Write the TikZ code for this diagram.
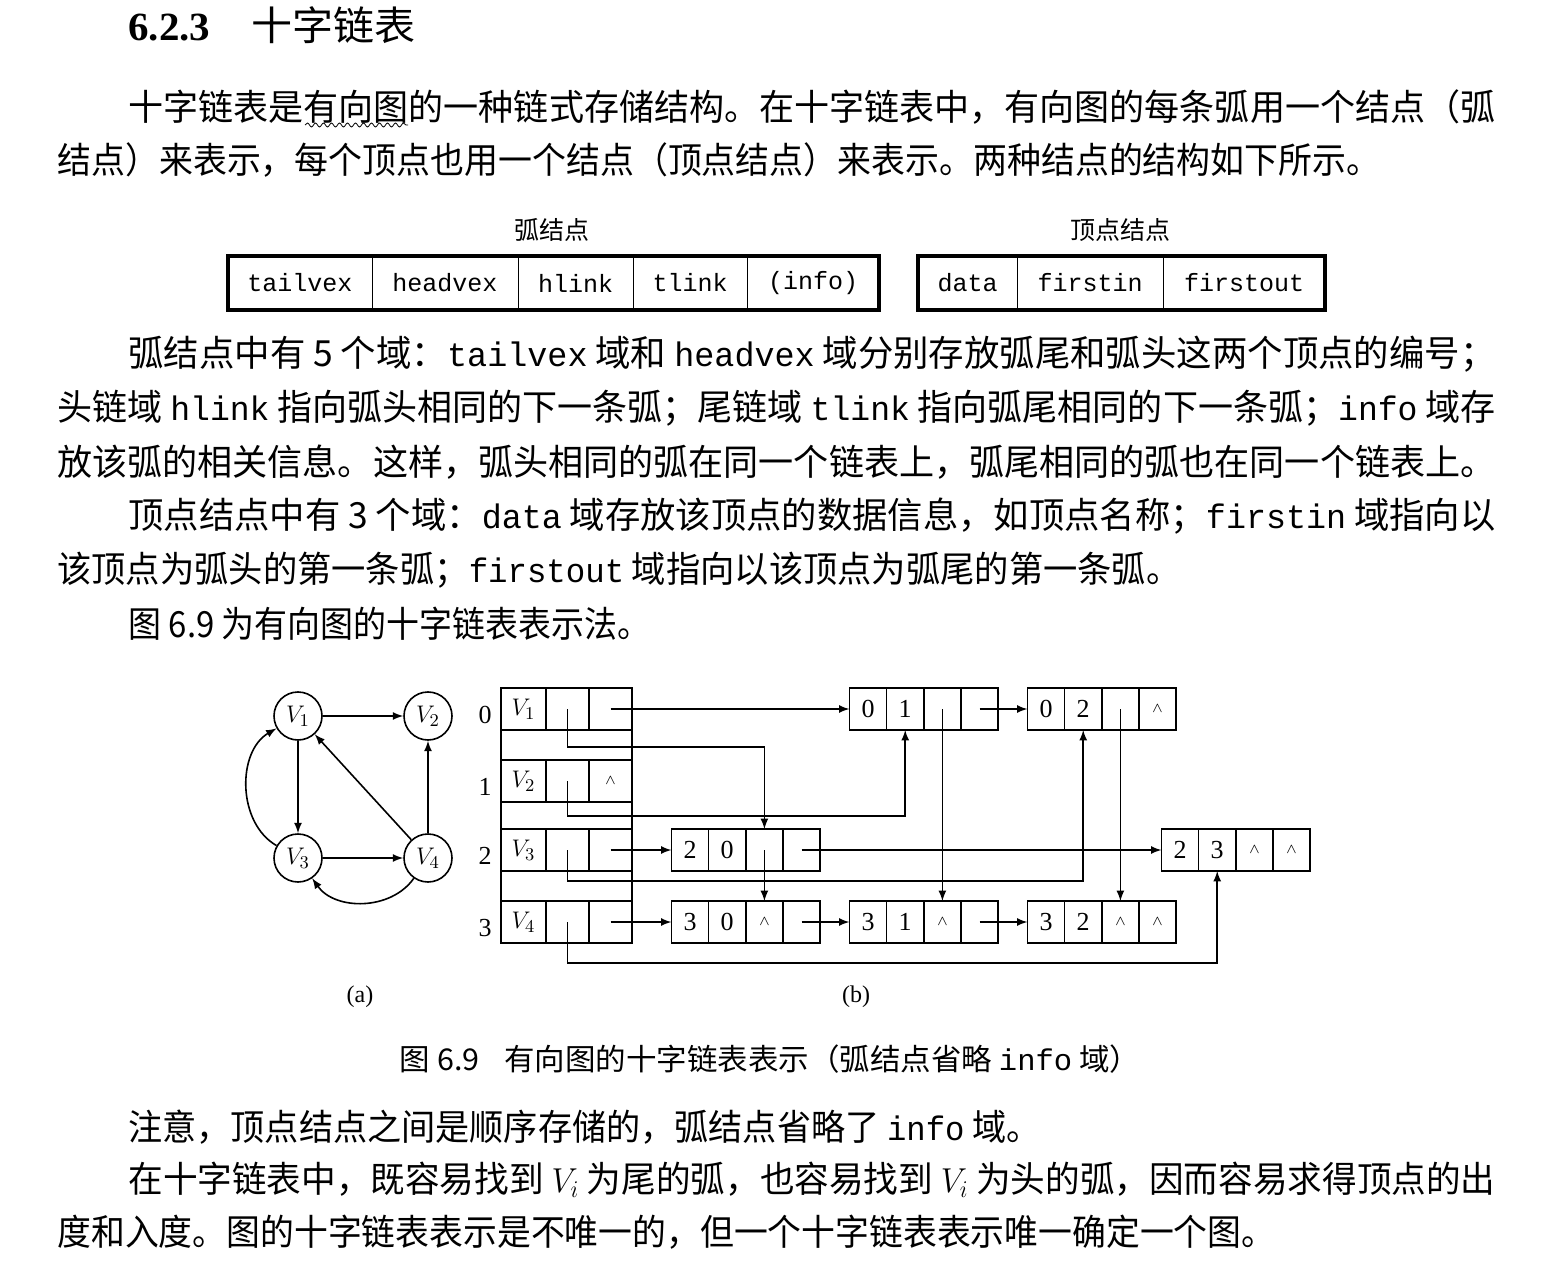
\documentclass[tikz,border=0pt]{standalone}
\usepackage{graphicx}
\usepackage{fontspec}
\setmainfont{Noto Sans CJK SC}
\setmonofont{Liberation Mono}
\newfontfamily\serif{Liberation Serif}
\usetikzlibrary{positioning}
\usetikzlibrary{decorations.pathmorphing}
\newcommand\jline[2]{\resizebox{#1}{\height}{#2}}
\newcommand\nul{\scriptsize$\wedge$}
\newcommand\tts[1]{{\fontsize{17}{17}\ttfamily #1}}
\newcommand\arcbox[7]{%
  \node[cell] (#1-1) at (#2,#3) {#4};
  \node[cell, right=0pt of #1-1] (#1-2) {#5};
  \node[cell, right=0pt of #1-2] (#1-3) {#6};
  \node[cell, right=0pt of #1-3] (#1-4) {#7};}
\tikzset{
  txt/.style={anchor=west, inner sep=0pt, font=\fontsize{18}{18}\selectfont},
  cell/.style={draw, thick, outer sep=0pt, inner sep=0pt, minimum width=18.6pt, minimum height=21pt, font=\fontsize{13}{13}\serif},
  fld/.style={draw, outer sep=0pt, inner sep=0pt, minimum height=27pt, font=\fontsize{12.5}{12.5}\ttfamily},
  vtx/.style={draw, circle, thick, minimum size=24pt, inner sep=0pt, font=\fontsize{13}{13}\serif},
  ptr/.style={-latex, thick},
}
\begin{document}
\begin{tikzpicture}[x=0.5pt, y=-0.5pt]
  \useasboundingbox (0,0) rectangle (1541,1261);
  % heading and text above the figure
  \node[anchor=west, inner sep=0pt] (title) at (128,25) {\jline{143.5pt}{\fontsize{20}{20}\selectfont{\serif\bfseries 6.2.3}\hspace{20pt}十字链表}};
  \node[txt] (l1) at (128,107) {\jline{683.5pt}{十字链表是有向图的一种链式存储结构。在十字链表中，有向图的每条弧用一个结点（弧}};
  \draw[decorate, decoration={snake, amplitude=1pt, segment length=4pt}] (305,125) -- (408,125);
  \node[txt] (l2) at (57,160) {\jline{661.5pt}{结点）来表示，每个顶点也用一个结点（顶点结点）来表示。两种结点的结构如下所示。}};

  % the two node layouts
  \node[font=\fontsize{12.5}{12.5}\selectfont] (arclbl) at (552,230) {弧结点};
  \node[font=\fontsize{12.5}{12.5}\selectfont] (vexlbl) at (1120,230) {顶点结点};
  \node[fld, minimum width=72pt, anchor=west] (f1) at (228,283) {\raisebox{-2pt}{tailvex}};
  \node[fld, minimum width=73pt, right=0pt of f1] (f2) {\raisebox{-2pt}{headvex}};
  \node[fld, minimum width=57.5pt, right=0pt of f2] (f3) {\raisebox{-2pt}{hlink}};
  \node[fld, minimum width=57pt, right=0pt of f3] (f4) {\raisebox{-2pt}{tlink}};
  \node[fld, minimum width=66pt, right=0pt of f4] (f5) {\raisebox{-2pt}{(info)}};
  \draw[line width=1.6pt] (f1.north west) rectangle (f5.south east);
  \node[fld, minimum width=49.5pt, anchor=west] (g1f) at (918,283) {\raisebox{-2pt}{data}};
  \node[fld, minimum width=73pt, right=0pt of g1f] (g2f) {\raisebox{-2pt}{firstin}};
  \node[fld, minimum width=81pt, right=0pt of g2f] (g3f) {\raisebox{-2pt}{firstout}};
  \draw[line width=1.6pt] (g1f.north west) rectangle (g3f.south east);

  \node[txt] (l3) at (128,354) {\jline{683.5pt}{弧结点中有 5 个域：\tts{tailvex} 域和 \tts{headvex} 域分别存放弧尾和弧头这两个顶点的编号；}};
  \node[txt] (l4) at (57,408) {\jline{719pt}{头链域 \tts{hlink} 指向弧头相同的下一条弧；尾链域 \tts{tlink} 指向弧尾相同的下一条弧；\tts{info} 域存}};
  \node[txt] (l5) at (57,462) {\jline{719pt}{放该弧的相关信息。这样，弧头相同的弧在同一个链表上，弧尾相同的弧也在同一个链表上。}};
  \node[txt] (l6) at (128,516) {\jline{683.5pt}{顶点结点中有 3 个域：\tts{data} 域存放该顶点的数据信息，如顶点名称；\tts{firstin} 域指向以}};
  \node[txt] (l7) at (57,570) {\jline{561.5pt}{该顶点为弧头的第一条弧；\tts{firstout} 域指向以该顶点为弧尾的第一条弧。}};
  \node[txt] (l8) at (128,624) {\jline{261pt}{图 6.9 为有向图的十字链表表示法。}};

  % (a) the digraph
  \node[vtx] (g1) at (298,716) {$V_1$};
  \node[vtx] (g2) at (428,716) {$V_2$};
  \node[vtx] (g3) at (298,858) {$V_3$};
  \node[vtx] (g4) at (428,858) {$V_4$};
  \draw[ptr] (g1) -- (g2);
  \draw[ptr] (g1) -- (g3);
  \draw[ptr] (g3) -- (g4);
  \draw[ptr] (g4) -- (g2);
  \draw[ptr] (g4) -- (g1);
  \draw[ptr] (g3) to[bend left=60] (g1);
  \draw[ptr] (g4) to[bend left=55] (g3);

  % (b) vertex table
  \foreach \i/\v in {0/709,1/781,2/850,3/922} {
    \pgfmathtruncatemacro\n{\i+1}
    \node[cell, minimum width=22.5pt] (v\i-1) at (523.5,\v) {$V_{\n}$};
    \node[cell, minimum width=21.5pt, right=0pt of v\i-1] (v\i-2) {};
    \node[cell, minimum width=21.5pt, right=0pt of v\i-2] (v\i-3) {};
    \node[font=\fontsize{13}{13}\serif] (r\i) at (485,\v+6) {\i};
  }
  \node[font=\fontsize{10}{10}\serif] at (v1-3) {\nul};
  \draw[thick] (v0-1.north west) rectangle (v3-3.south east);

  % (b) arc nodes
  \arcbox{a01}{868}{709}{0}{1}{}{}
  \arcbox{a02}{1046}{709}{0}{2}{}{\nul}
  \arcbox{a20}{690}{850}{2}{0}{}{}
  \arcbox{a23}{1180}{850}{2}{3}{\nul}{\nul}
  \arcbox{a30}{690}{922}{3}{0}{\nul}{}
  \arcbox{a31}{868}{922}{3}{1}{\nul}{}
  \arcbox{a32}{1046}{922}{3}{2}{\nul}{\nul}

  % out lists
  \draw[ptr] (v0-3.center) -- (a01-1.west);
  \draw[ptr] (v2-3.center) -- (a20-1.west);
  \draw[ptr] (v3-3.center) -- (a30-1.west);
  \draw[ptr] (a01-4.center) -- (a02-1.west);
  \draw[ptr] (a20-4.center) -- (a23-1.west);
  \draw[ptr] (a30-4.center) -- (a31-1.west);
  \draw[ptr] (a31-4.center) -- (a32-1.west);
  % in lists
  \draw[ptr] (v0-2.center) -- ++(0,38) -| (a20-3.north);
  \draw[ptr] (v1-2.center) -- ++(0,35) -| (a01-2.south);
  \draw[ptr] (v2-2.center) -- ++(0,31) -| (a02-2.south);
  \draw[ptr] (v3-2.center) -- ++(0,41) -| (a23-2.south);
  \draw[ptr] (a01-3.center) -- (a31-3.north);
  \draw[ptr] (a02-3.center) -- (a32-3.north);
  \draw[ptr] (a20-3.center) -- (a30-3.north);

  \node[font=\fontsize{12}{12}\serif] (capa) at (360,997) {(a)};
  \node[font=\fontsize{12}{12}\serif] (capb) at (856,997) {(b)};
  \node[inner sep=0pt] (cap) at (770,1059) {\jline{370pt}{\fontsize{15}{15}\selectfont 图 6.9\hspace{12pt}有向图的十字链表表示（弧结点省略 {\ttfamily info} 域）}};

  % text below the figure
  \node[txt] (l9) at (128,1127) {\jline{456pt}{注意，顶点结点之间是顺序存储的，弧结点省略了 \tts{info} 域。}};
  \node[txt] (l10) at (128,1180) {\jline{683.5pt}{在十字链表中，既容易找到 $V_i$ 为尾的弧，也容易找到 $V_i$ 为头的弧，因而容易求得顶点的出}};
  \node[txt] (l11) at (57,1232) {\jline{609pt}{度和入度。图的十字链表表示是不唯一的，但一个十字链表表示唯一确定一个图。}};
\end{tikzpicture}
\end{document}
